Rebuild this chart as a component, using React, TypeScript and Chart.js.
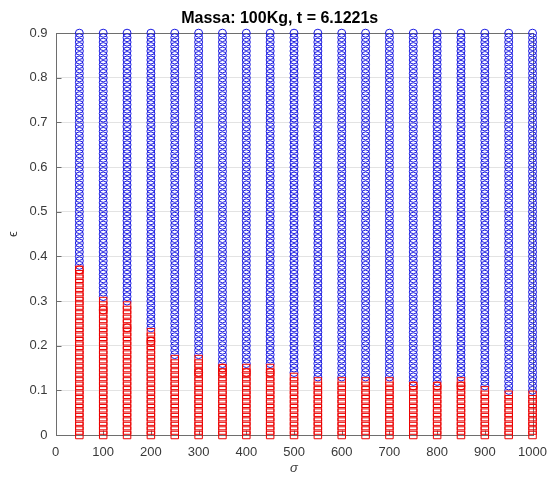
import React, { useEffect, useRef } from "react";
import { Chart, registerables } from "chart.js";

Chart.register(...registerables);

// σ values swept (one column of markers per value)
const sigmaValues = [50, 100, 150, 200, 250, 300, 350, 400, 450, 500, 550, 600, 650, 700, 750, 800, 850, 900, 950, 1000];
// ε sample grid, 0 .. 0.9 in steps of 0.01
const epsilonGrid = Array.from({ length: 91 }, (_, i) => i / 100);
// highest ε still marked with a red square, per σ
const redTop = [0.37, 0.30, 0.29, 0.23, 0.17, 0.17, 0.15, 0.15, 0.15, 0.13, 0.12, 0.12, 0.12, 0.12, 0.11, 0.11, 0.12, 0.10, 0.09, 0.09];
// lowest ε marked with a blue circle, per σ
const blueBottom = [0.38, 0.31, 0.30, 0.24, 0.18, 0.18, 0.16, 0.16, 0.16, 0.14, 0.13, 0.13, 0.13, 0.13, 0.12, 0.12, 0.13, 0.11, 0.10, 0.10];
// red circle markers
const markSigma = [50, 100, 150, 200, 300, 350, 350, 400, 450, 750, 800, 850];
const markEpsilon = [0.37, 0.28, 0.24, 0.21, 0.14, 0.15, 0.14, 0.14, 0.14, 0.11, 0.11, 0.11];

const xTicks = [0, 100, 200, 300, 400, 500, 600, 700, 800, 900, 1000];
const yTicks = [0, 0.1, 0.2, 0.3, 0.4, 0.5, 0.6, 0.7, 0.8, 0.9];

const titleText = "Massa: 100Kg, t = 6.1221s";
const FONT = "'Liberation Sans', Arial, Helvetica, sans-serif";

function buildPoints() {
  const red: { x: number; y: number }[] = [];
  const blue: { x: number; y: number }[] = [];
  sigmaValues.forEach((s, k) => {
    const top = Math.round(redTop[k] * 100);
    const bottom = Math.round(blueBottom[k] * 100);
    epsilonGrid.forEach((e) => {
      const h = Math.round(e * 100);
      if (h <= top) red.push({ x: s, y: e });
      if (h >= bottom) blue.push({ x: s, y: e });
    });
  });
  const marks = markSigma.map((s, i) => ({ x: s, y: markEpsilon[i] }));
  return { red, blue, marks };
}

const framePlugin = {
  id: "axesFrame",
  beforeDatasetsDraw(chart: any) {
    const { ctx, chartArea, scales } = chart;
    const l = Math.round(chartArea.left) + 0.5;
    const r = Math.round(chartArea.right) + 0.5;
    const t = Math.round(chartArea.top) + 0.5;
    const b = Math.round(chartArea.bottom) + 0.5;
    ctx.save();
    ctx.strokeStyle = "#6e6e6e";
    ctx.lineWidth = 1;
    ctx.strokeRect(l, t, r - l, b - t);
    ctx.beginPath();
    xTicks.forEach((v) => {
      const x = Math.round(scales.x.getPixelForValue(v)) + 0.5;
      ctx.moveTo(x, b);
      ctx.lineTo(x, b - 5);
    });
    yTicks.forEach((v) => {
      const y = Math.round(scales.y.getPixelForValue(v)) + 0.5;
      ctx.moveTo(l, y);
      ctx.lineTo(l + 5, y);
    });
    ctx.stroke();
    ctx.restore();
  },
};

export default function App() {
  const canvasRef = useRef<HTMLCanvasElement | null>(null);

  useEffect(() => {
    const canvas = canvasRef.current;
    if (!canvas) return;
    const { red, blue, marks } = buildPoints();
    const chart = new Chart(canvas, {
      type: "scatter",
      data: {
        datasets: [
          {
            label: "marked",
            data: marks,
            pointStyle: "circle",
            pointRadius: 4,
            borderWidth: 1,
            borderColor: "rgb(235,0,0)",
            backgroundColor: "rgba(0,0,0,0)",
            clip: false,
          },
          {
            label: "red",
            data: red,
            pointStyle: "rect",
            pointRadius: 5.3,
            borderWidth: 1,
            borderColor: "rgb(235,0,0)",
            backgroundColor: "rgba(0,0,0,0)",
            clip: false,
          },
          {
            label: "blue",
            data: blue,
            pointStyle: "circle",
            pointRadius: 4,
            borderWidth: 1,
            borderColor: "rgb(25,25,225)",
            backgroundColor: "rgba(0,0,0,0)",
            clip: false,
          },
        ],
      },
      options: {
        responsive: false,
        animation: false,
        events: [],
        layout: { padding: { left: 18, right: 15.5, top: 0, bottom: 0 } },
        plugins: {
          legend: { display: false },
          tooltip: { enabled: false },
          title: {
            display: true,
            text: titleText,
            color: "#000",
            font: { family: FONT, size: 16, weight: "bold" },
            padding: { top: 9, bottom: 5 },
          },
        },
        scales: {
          x: {
            type: "linear",
            min: 0,
            max: 1000,
            afterFit: (s: any) => {
              s.height = 48;
            },
            afterBuildTicks: (s: any) => {
              s.ticks = xTicks.map((v) => ({ value: v }));
            },
            ticks: {
              color: "#3a3a3a",
              font: { family: FONT, size: 13 },
              padding: 10,
              maxRotation: 0,
              autoSkip: false,
              callback: (v: any) => String(v),
            },
            grid: { display: false, drawTicks: false },
            border: { display: false },
            title: {
              display: true,
              text: "σ",
              color: "#3a3a3a",
              font: { family: FONT, size: 13, style: "italic" },
              padding: { top: 0, bottom: 7 },
            },
          },
          y: {
            type: "linear",
            min: 0,
            max: 0.9,
            afterFit: (s: any) => {
              s.width = 37.5;
            },
            afterBuildTicks: (s: any) => {
              s.ticks = yTicks.map((v) => ({ value: v }));
            },
            ticks: {
              color: "#3a3a3a",
              font: { family: FONT, size: 13 },
              padding: 8,
              autoSkip: false,
              callback: (v: any) => String(Math.round(v * 10) / 10),
            },
            grid: { color: "#e3e3e3", lineWidth: 1, drawTicks: false },
            border: { display: false },
            title: {
              display: true,
              text: "ϵ",
              color: "#3a3a3a",
              font: { family: FONT, size: 13 },
              padding: { top: -12.8, bottom: 0 },
            },
          },
        },
      },
      plugins: [framePlugin],
    });
    return () => chart.destroy();
  }, []);

  return (
    <div style={{ position: "fixed", left: 0, top: 0, width: 557, height: 483, background: "#fff" }}>
      <canvas ref={canvasRef} width={557} height={483} style={{ display: "block" }} />
    </div>
  );
}
